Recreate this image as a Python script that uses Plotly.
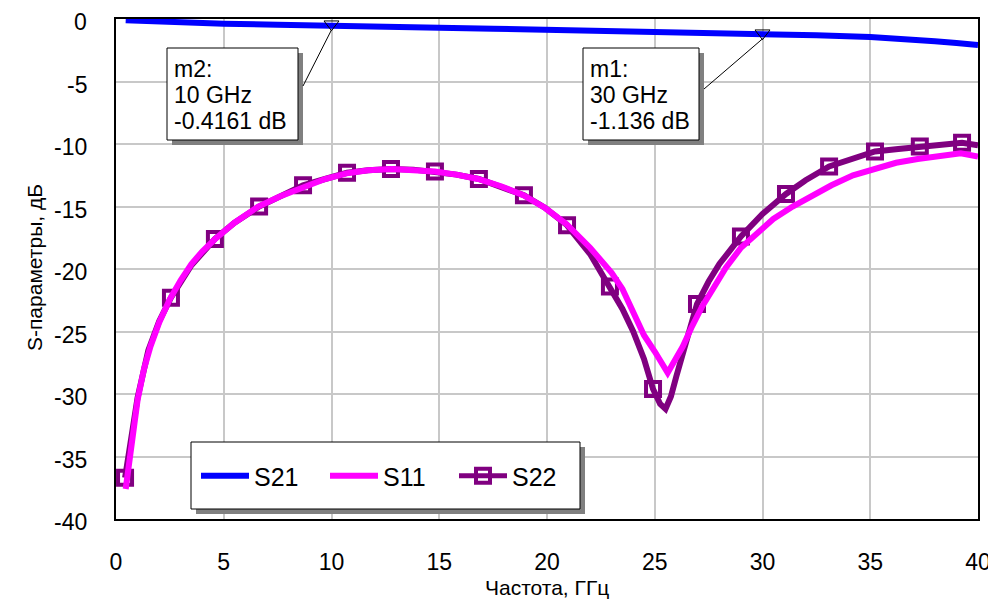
import plotly.graph_objects as go

# ---------------- data ----------------
S21_FREQ = [0.45, 2.5, 5, 7.5, 10, 12.5, 15, 17.5, 20, 22.5, 25, 27.5, 30, 32.5, 35, 36, 37, 38, 39, 40]
S21_DB = [-0.1, -0.28, -0.38, -0.46, -0.5, -0.62, -0.7, -0.78, -0.86, -0.93, -1.0, -1.07, -1.14, -1.3,
          -1.44, -1.52, -1.62, -1.78, -1.92, -2.08]

S11_FREQ = [0.45, 0.7, 1.0, 1.3, 1.6, 2.0, 2.5, 3.0, 3.5, 4.0, 4.6, 5.5, 6.6, 7.6, 8.7, 9.7, 10.7, 11.7,
            12.8, 13.8, 14.8, 15.8, 16.8, 17.9, 18.9, 19.9, 20.9, 22.0, 23.0, 23.5, 24.0, 24.5, 25.0, 25.3,
            25.6, 25.9, 26.3, 26.7, 27.2, 27.7, 28.3, 29.0, 29.7, 30.5, 31.4, 32.3, 33.2, 34.2, 35.2, 36.2,
            37.2, 38.2, 39.2, 40.0]
S11_DB = [-37.6, -34.0, -30.5, -28.0, -26.2, -24.3, -22.4, -20.9, -19.6, -18.6, -17.6, -16.3, -15.0, -14.2,
          -13.4, -12.8, -12.35, -12.1, -12.0, -12.05, -12.2, -12.45, -12.8, -13.4, -14.1, -15.1, -16.4, -18.3,
          -20.3, -21.6, -23.4, -25.3, -26.6, -27.4, -28.3, -27.4, -26.2, -24.7, -23.0, -21.6, -19.9, -18.3,
          -17.2, -16.0, -15.0, -14.1, -13.3, -12.5, -12.0, -11.5, -11.2, -10.95, -10.75, -11.0]

S22_FREQ = [0.42, 0.7, 1.0, 1.5, 2.0, 2.55, 3.5, 4.59, 5.5, 6.64, 7.6, 8.68, 9.7, 10.72, 11.7, 12.76, 13.8,
            14.80, 15.8, 16.84, 17.9, 18.93, 19.9, 20.93, 22.0, 22.92, 23.5, 24.0, 24.5, 24.92, 25.25, 25.5,
            25.75, 26.0, 26.5, 26.96, 27.5, 28.0, 29.0, 30.0, 31.09, 32.0, 33.09, 34.0, 35.22, 36.3, 37.3,
            38.3, 39.26, 40.0]
S22_DB = [-36.7, -33.8, -30.3, -26.5, -24.2, -22.3, -19.7, -17.6, -16.3, -15.0, -14.2, -13.3, -12.8, -12.3,
          -12.1, -12.0, -12.05, -12.2, -12.45, -12.8, -13.4, -14.1, -15.1, -16.5, -18.8, -21.4, -23.2, -25.0,
          -27.2, -29.6, -30.8, -31.2, -30.2, -28.6, -25.4, -22.8, -21.0, -19.6, -17.4, -15.6, -14.0, -12.9,
          -11.8, -11.3, -10.6, -10.4, -10.2, -10.0, -9.9, -10.1]
S22_MARKER_FREQ = [0.42, 2.55, 4.59, 6.64, 8.68, 10.72, 12.76, 14.80, 16.84, 18.93, 20.93, 22.92, 24.92,
                   26.96, 29.0, 31.09, 33.09, 35.22, 37.3, 39.26]

MARKER_NAMES = ["m2", "m1"]
MARKER_FREQ = [10, 30]
MARKER_DB = [-0.4161, -1.136]

X_TICKS = [0, 5, 10, 15, 20, 25, 30, 35, 40]
X_TICK_TEXT = ["0", "5", "10", "15", "20", "25", "30", "35", "40"]
Y_TICKS = [0, -5, -10, -15, -20, -25, -30, -35, -40]
Y_TICK_TEXT = ["0", "-5", "-10", "-15", "-20", "-25", "-30", "-35", "-40"]

X_TITLE = "Частота, ГГц"
Y_TITLE = "S-параметры, дБ"

# ---------------- style ----------------
FONT = "Liberation Sans, Arial, sans-serif"
BLUE = "#0000FF"
MAGENTA = "#FF00FF"
PURPLE = "#800080"
W_FIG, H_FIG = 996, 613
OFF = 8  # page body margin
PW, PH = 862, 500
L, T = 116 - OFF, 19 - OFF
R, B = W_FIG - L - PW, H_FIG - T - PH


def paper(xp, yp):
    # screen pixel -> paper fraction
    return (xp - OFF - L) / PW, (T + PH - (yp - OFF)) / PH


def to_data(xp, yp):
    return (xp - OFF - L) / PW * 40.0, -((yp - OFF) - T) / PH * 40.0


fig = go.Figure()

fig.add_trace(go.Scatter(x=S21_FREQ, y=S21_DB, mode="lines", name="S21",
                         line=dict(color=BLUE, width=6)))

sizes = [14 if f in S22_MARKER_FREQ else 0 for f in S22_FREQ]
fig.add_trace(go.Scatter(x=S22_FREQ, y=S22_DB, mode="lines+markers", name="S22", showlegend=False,
                         line=dict(color=PURPLE, width=6),
                         marker=dict(symbol="square-open", size=sizes, color=PURPLE, opacity=1,
                                     line=dict(color=PURPLE, width=4))))

fig.add_trace(go.Scatter(x=S11_FREQ, y=S11_DB, mode="lines", name="S11",
                         line=dict(color=MAGENTA, width=6)))

fig.add_trace(go.Scatter(x=[None], y=[None], mode="lines+markers", name="S22",
                         line=dict(color=PURPLE, width=5),
                         marker=dict(symbol="square-open", size=14, color=PURPLE, opacity=1,
                                     line=dict(color=PURPLE, width=4))))

fig.add_trace(go.Scatter(x=MARKER_FREQ, y=MARKER_DB, mode="markers", showlegend=False,
                         marker=dict(symbol="triangle-down-open", size=13, color="black",
                                     line=dict(color="black", width=1))))

shapes = []
annotations = []


def box(x0, y0, x1, y1):
    a0, b0 = paper(x0 + 5, y0 + 5)
    a1, b1 = paper(x1 + 5, y1 + 5)
    shapes.append(dict(type="rect", xref="paper", yref="paper", x0=a0, y0=b1, x1=a1, y1=b0,
                       fillcolor="#808080", line=dict(width=0), layer="above"))
    a0, b0 = paper(x0, y0)
    a1, b1 = paper(x1, y1)
    shapes.append(dict(type="rect", xref="paper", yref="paper", x0=a0, y0=b1, x1=a1, y1=b0,
                       fillcolor="white", line=dict(color="black", width=1), layer="above"))


# marker readout boxes
BOX_POS = [(167, 48, 298, 140, 303, 86), (583, 48, 699, 140, 704, 89)]
for name, f, v, (x0, y0, x1, y1, lx, ly) in zip(MARKER_NAMES, MARKER_FREQ, MARKER_DB, BOX_POS):
    box(x0, y0, x1, y1)
    dx, dy = to_data(lx, ly)
    shapes.append(dict(type="line", xref="x", yref="y", x0=dx, y0=dy, x1=f, y1=v - 0.45,
                       line=dict(color="black", width=1), layer="above"))
    for txt, ycen in zip([f"{name}:", f"{f} GHz", f"{v:g} dB"], [69, 95, 121]):
        ax, ay = paper(x0 + 5, ycen)
        annotations.append(dict(text=txt, xref="paper", yref="paper", x=ax, y=ay, xanchor="left",
                                yanchor="middle", showarrow=False,
                                font=dict(family=FONT, size=23, color="black")))

# legend box
box(191, 442, 580, 509)

# y tick labels (drawn slightly below their grid lines, as in the reference)
tx, _ = paper(89, 0)
for v, t in zip(Y_TICKS, Y_TICK_TEXT):
    annotations.append(dict(text=t, xref="paper", yref="y", x=tx, y=v, xanchor="right", yanchor="middle",
                            yshift=-3, showarrow=False, font=dict(family=FONT, size=23, color="black")))

# axis titles
ax, ay = paper(547, 587)
annotations.append(dict(text=X_TITLE, xref="paper", yref="paper", x=ax, y=ay, xanchor="center",
                        yanchor="middle", showarrow=False, font=dict(family=FONT, size=21, color="black")))
ax, ay = paper(34, 268)
annotations.append(dict(text=Y_TITLE, xref="paper", yref="paper", x=ax, y=ay, xanchor="center",
                        yanchor="middle", showarrow=False, textangle=-90,
                        font=dict(family=FONT, size=21, color="black")))

lx, ly = paper(196, 476)
fig.update_layout(
    width=W_FIG, height=H_FIG,
    margin=dict(l=L, r=R, t=T, b=B, autoexpand=False),
    paper_bgcolor="white", plot_bgcolor="white",
    font=dict(family=FONT, size=23, color="black"),
    showlegend=True,
    legend=dict(orientation="h", x=lx, y=ly, xanchor="left", yanchor="middle",
                bgcolor="rgba(0,0,0,0)", borderwidth=0, font=dict(family=FONT, size=25, color="black"),
                itemwidth=48, entrywidth=66, entrywidthmode="pixels", traceorder="normal"),
    shapes=shapes,
    annotations=annotations,
)
fig.update_xaxes(range=[0, 40], tickvals=X_TICKS, ticktext=X_TICK_TEXT, ticks="", showgrid=True,
                 gridcolor="#C8C8C8", gridwidth=1.5, zeroline=False, showline=True, linecolor="black",
                 linewidth=1.5, mirror=True, automargin=False, ticklabelstandoff=22,
                 ticklabeloverflow="allow", tickfont=dict(family=FONT, size=23))
fig.update_yaxes(range=[-40, 0], tickvals=Y_TICKS, showticklabels=False, ticks="", showgrid=True,
                 gridcolor="#C8C8C8", gridwidth=1.5, zeroline=False, showline=True, linecolor="black",
                 linewidth=1.5, mirror=True, automargin=False)

fig.write_html("out.html")
